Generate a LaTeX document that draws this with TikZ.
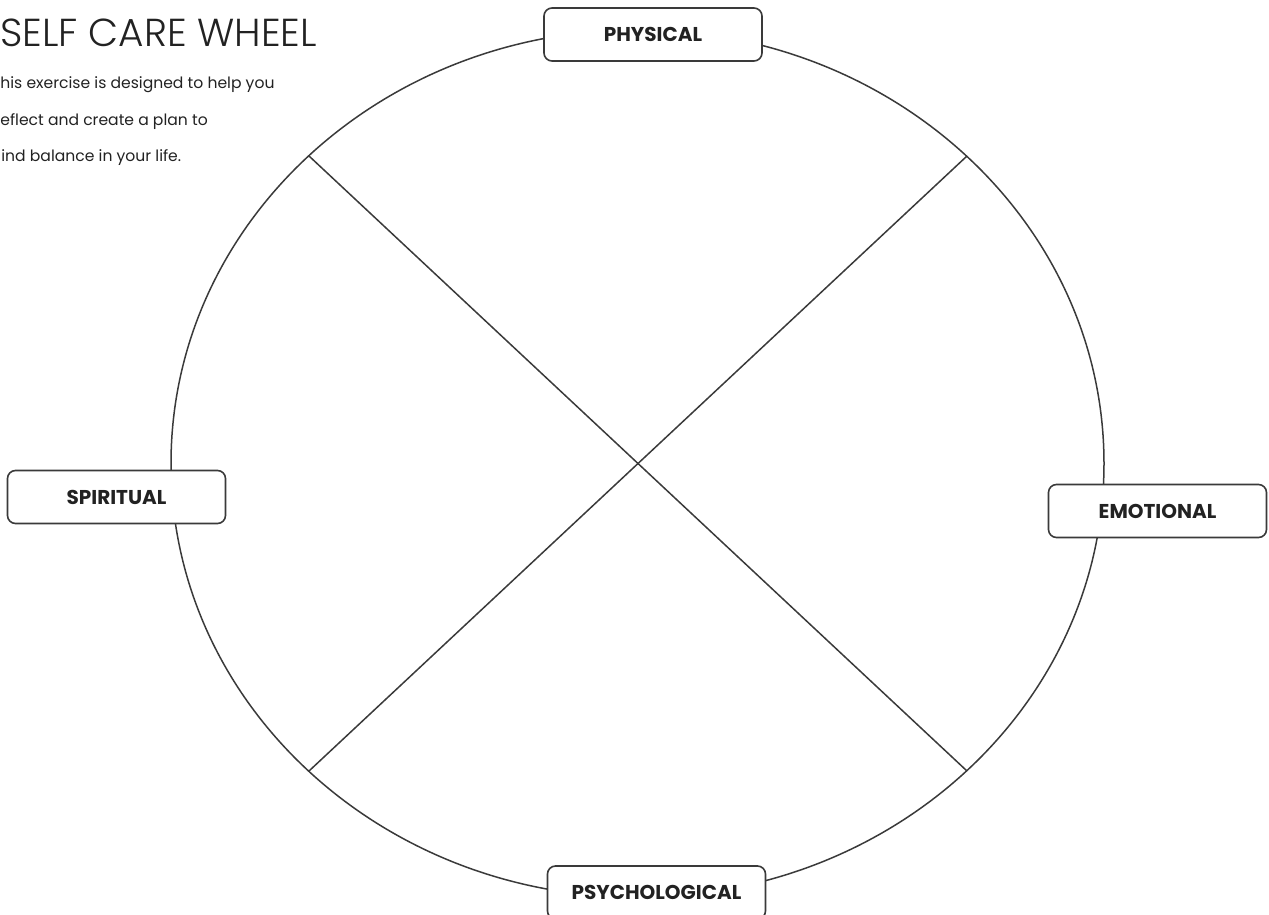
\documentclass[tikz,border=0pt]{standalone}
\usepackage{fontspec}
\setmainfont{Poppins}
\newfontfamily\titlefont{Poppins}[UprightFont=* Light]
\usetikzlibrary{shapes.geometric}
\definecolor{linegray}{HTML}{3A3A3A}
\definecolor{inkgray}{HTML}{222222}

\begin{document}
\begin{tikzpicture}[
    x=0.5pt, y=-0.5pt,
    every node/.style={font=\small, text=inkgray},
    wheel/.style={draw=linegray, line width=0.75pt, ellipse, minimum width=466.5pt, minimum height=433.7pt, inner sep=0pt, outer sep=0pt},
    spoke/.style={draw=linegray, line width=0.75pt},
    area/.style={draw=linegray, line width=0.8pt, fill=white, rounded corners=4pt, minimum width=109pt, minimum height=26.5pt, inner sep=0pt, font=\fontsize{10}{12}\selectfont\bfseries},
    note/.style={anchor=base west, inner sep=0pt, font=\fontsize{7.8}{9}\selectfont}
]
\useasboundingbox (0,0) rectangle (1269,915);
\node[wheel] (wheel) at (637.5,463.5) {};
% ends of the two spokes, on the rim
\coordinate (rimnw) at (309,156);
\coordinate (rimne) at (967,156);
\coordinate (rimsw) at (309,771);
\coordinate (rimse) at (967,771);
\draw[spoke] (rimnw) -- (rimse);
\draw[spoke] (rimne) -- (rimsw);
\node[area] (physical) at (653,34.5) {PHYSICAL};
\node[area] (spiritual) at (116.5,497) {SPIRITUAL};
\node[area] (emotional) at (1157.5,511) {EMOTIONAL};
\node[area] (psychological) at (656.5,892.5) {PSYCHOLOGICAL};
\node[anchor=base west, inner sep=0pt, font=\titlefont\fontsize{19.5}{22}\selectfont] (title) at (0,47) {SELF CARE WHEEL};
\node[note] (intro1) at (0,89) {his exercise is designed to help you};
\node[note] (intro2) at (0,126) {eflect and create a plan to};
\node[note] (intro3) at (1,162) {ind balance in your life.};
\end{tikzpicture}
\end{document}
